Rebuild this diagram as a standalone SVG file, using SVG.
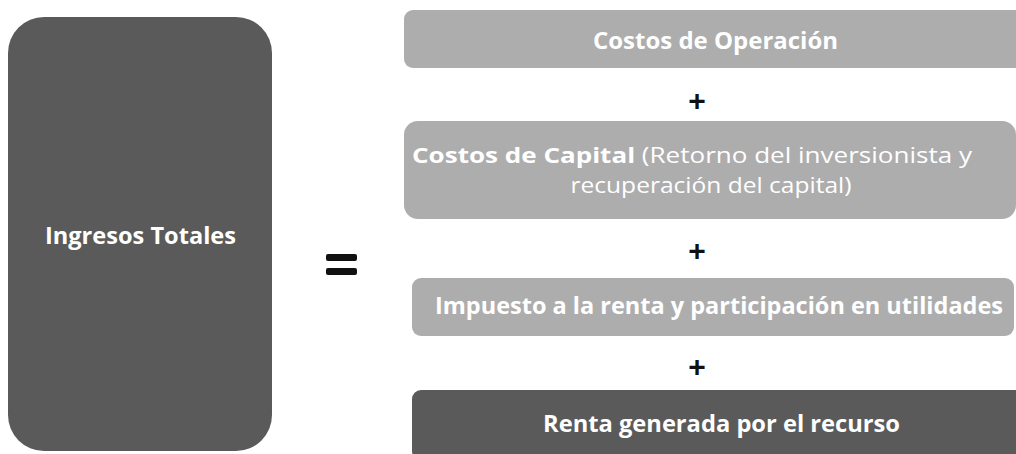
<svg xmlns="http://www.w3.org/2000/svg" width="1016" height="454" viewBox="0 0 1016 454">
<style>
.dark{fill:#5a5a5a}
.light{fill:#adadad}
.t{font-family:"Open Sans","Liberation Sans",sans-serif;fill:#ffffff;text-anchor:middle;font-size:24px}
.s{font-size:21px}
.b{font-weight:bold}
.op{font-family:"Liberation Sans",sans-serif;font-weight:bold;fill:#111;text-anchor:middle;font-size:30px}
</style>
<rect width="1016" height="454" fill="#ffffff"/>
<g id="ingresos">
<rect class="dark" x="8" y="17" width="264" height="434" rx="36"/>
<text class="t b" x="140.5" y="244" textLength="191" lengthAdjust="spacingAndGlyphs">Ingresos Totales</text>
</g>
<g id="equals">
<rect x="326" y="254" width="31" height="7" rx="2" fill="#111"/>
<rect x="326" y="268" width="31" height="7" rx="2" fill="#111"/>
</g>
<g id="operacion">
<rect class="light" x="404" y="10" width="630" height="58" rx="9"/>
<text class="t b" x="715.5" y="49" textLength="245" lengthAdjust="spacingAndGlyphs">Costos de Operación</text>
</g>
<g id="capital">
<rect class="light" x="404" y="121" width="612" height="98" rx="14"/>
<text class="t s" x="692" y="163" textLength="560" lengthAdjust="spacingAndGlyphs"><tspan class="b">Costos de Capital</tspan> (Retorno del inversionista y</text>
<text class="t s" x="711" y="193" textLength="281" lengthAdjust="spacingAndGlyphs">recuperación del capital)</text>
</g>
<g id="impuesto">
<rect class="light" x="412" y="278" width="602" height="58" rx="9"/>
<text class="t b" x="719" y="314" textLength="568" lengthAdjust="spacingAndGlyphs">Impuesto a la renta y participación en utilidades</text>
</g>
<g id="renta">
<rect class="dark" x="412" y="390" width="620" height="70" rx="9"/>
<text class="t b" x="721.5" y="432" textLength="357" lengthAdjust="spacingAndGlyphs">Renta generada por el recurso</text>
</g>
<g id="connectors">
<text class="op" x="697" y="111">+</text>
<text class="op" x="697" y="261">+</text>
<text class="op" x="697" y="377">+</text>
</g>
</svg>
